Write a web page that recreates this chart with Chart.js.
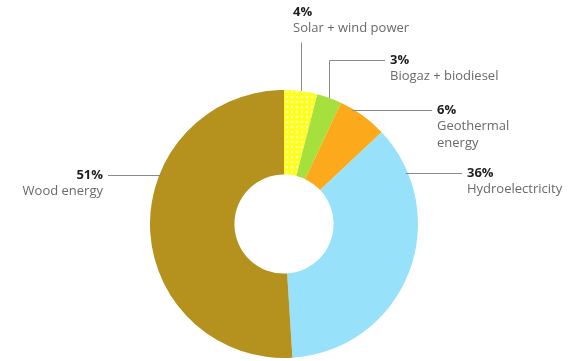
<!DOCTYPE html>
<html>
<head>
<meta charset="utf-8">
<script src="https://cdn.jsdelivr.net/npm/chart.js@4/dist/chart.umd.min.js"></script>
<style>
  html, body { margin: 0; padding: 0; background: #fff; }
  #wrap { width: 572px; height: 361px; position: relative; }
</style>
</head>
<body>
<div id="wrap"><canvas id="c"></canvas></div>
<script>
// Energy sources, clockwise from 12 o'clock
const categories = ['Solar + wind power', 'Biogaz + biodiesel', 'Geothermal energy', 'Hydroelectricity', 'Wood energy'];
const shares = [4, 3, 6, 36, 51];
const labelLines = [['Solar + wind power'], ['Biogaz + biodiesel'], ['Geothermal', 'energy'], ['Hydroelectricity'], ['Wood energy']];

// Yellow fill with a light dotted grid for the solar slice
function dotPattern() {
  const t = document.createElement('canvas');
  t.width = 5; t.height = 5;
  const g = t.getContext('2d');
  g.fillStyle = '#ffff1e';
  g.fillRect(0, 0, 5, 5);
  g.fillStyle = '#fdfbb8';
  g.fillRect(1, 1, 2, 2);
  return g.createPattern(t, 'repeat');
}

const colors = [dotPattern(), '#a6e03c', '#fcaa1c', '#98e1fa', '#b5921d'];

// Callout placement: leader-line shape and text anchor for each slice
const callouts = [
  { kind: 'up',    lineY: 42, textX: 293, textY: 12, align: 'left' },
  { kind: 'elbow', lineY: 60, lineEnd: 385, textX: 390, textY: 60, align: 'left' },
  { kind: 'flat',  lineY: 110, lineEnd: 432, textX: 437, textY: 110, align: 'left' },
  { kind: 'flat',  lineY: 173, lineEnd: 462, textX: 467, textY: 173, align: 'left' },
  { kind: 'flat',  lineY: 175, lineEnd: 108, textX: 103, textY: 175, align: 'right' }
];

const calloutPlugin = {
  id: 'callouts',
  afterDatasetsDraw(chart) {
    const ctx = chart.ctx;
    const arcs = chart.getDatasetMeta(0).data;
    ctx.save();
    ctx.strokeStyle = '#8a8a8a';
    ctx.lineWidth = 1;
    arcs.forEach((arc, i) => {
      const c = callouts[i];
      const cx = arc.x, cy = arc.y, r = arc.outerRadius;
      const mid = (arc.startAngle + arc.endAngle) / 2;
      ctx.beginPath();
      if (c.kind === 'up' || c.kind === 'elbow') {
        const px = cx + r * Math.cos(mid);
        const py = cy + r * Math.sin(mid);
        ctx.moveTo(Math.round(px) + 0.5, py);
        ctx.lineTo(Math.round(px) + 0.5, c.lineY + 0.5);
        if (c.kind === 'elbow') ctx.lineTo(c.lineEnd, c.lineY + 0.5);
      } else {
        const dy = c.lineY - cy;
        const dx = Math.sqrt(Math.max(0, r * r - dy * dy));
        const ex = c.align === 'left' ? cx + dx - 2 : cx - dx + 2;
        ctx.moveTo(ex, c.lineY + 0.5);
        ctx.lineTo(c.lineEnd, c.lineY + 0.5);
      }
      ctx.stroke();

      ctx.textAlign = c.align;
      ctx.textBaseline = 'middle';
      ctx.fillStyle = '#1e1e1e';
      ctx.font = 'bold 13px "Open Sans", sans-serif';
      ctx.fillText(shares[i] + '%', c.textX, c.textY);
      ctx.fillStyle = '#6a6a6a';
      ctx.font = '13px "Open Sans", sans-serif';
      labelLines[i].forEach((ln, k) => {
        ctx.fillText(ln, c.textX, c.textY + 16 + k * 17);
      });
    });
    ctx.restore();
  }
};

new Chart(document.getElementById('c'), {
  type: 'doughnut',
  data: {
    labels: categories,
    datasets: [{
      data: shares,
      backgroundColor: colors,
      borderWidth: 0,
      hoverOffset: 0
    }]
  },
  options: {
    responsive: true,
    maintainAspectRatio: false,
    animation: false,
    cutout: '37%',
    rotation: 0,
    layout: { padding: { left: 150, right: 154, top: 90, bottom: 3 } },
    plugins: {
      legend: { display: false },
      tooltip: { enabled: false }
    }
  },
  plugins: [calloutPlugin]
});
</script>
</body>
</html>
